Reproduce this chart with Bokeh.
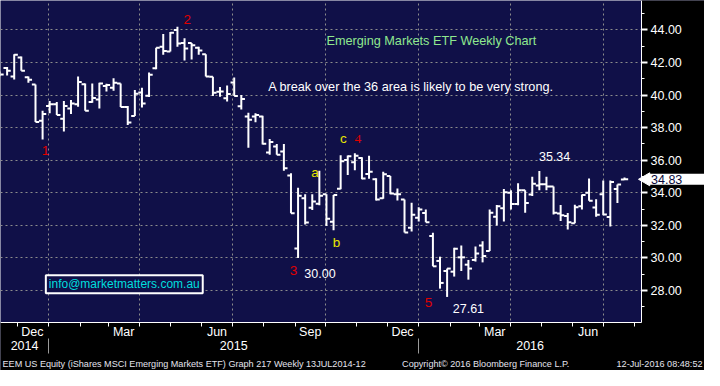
import math
import pandas as pd
from bokeh.plotting import figure
from bokeh.models import (Range1d, FixedTicker, LinearAxis, DatetimeAxis, Grid,
                          DatetimeTickFormatter, PrintfTickFormatter, ColumnDataSource, Label)
from bokeh.embed import file_html
from bokeh.resources import INLINE

# ---------------- data (weekly OHLC, EEM US Equity) ----------------
week_dates = pd.date_range("2014-11-14", periods=89, freq="7D")
opens = [41.35, 41.67, 41.14, 42.31, 41.10, 40.65, 38.43, 39.33, 39.43, 38.55,
         39.18, 39.43, 40.67, 39.57, 39.73, 40.55, 40.45, 40.71, 39.27, 38.71,
         40.16, 39.96, 41.65, 42.96, 42.67, 44.00, 43.20, 43.20, 42.90, 42.51,
         41.12, 40.20, 39.80, 40.78, 39.31, 38.69, 38.69, 38.69, 36.47, 36.84,
         36.53, 35.06, 30.59, 33.67, 33.08, 33.33, 33.92, 32.22, 34.25, 36.02,
         35.88, 36.14, 35.16, 34.84, 33.67, 35.04, 33.92, 33.59, 31.86, 32.47,
         32.76, 31.35, 29.82, 29.20, 29.16, 30.04, 29.59, 29.88, 30.76, 30.43,
         32.53, 33.06, 34.00, 33.31, 34.16, 33.90, 34.45, 34.53, 34.39, 32.73,
         32.57, 32.14, 33.18, 34.00, 33.10, 33.92, 32.51, 34.24, 34.82]
highs = [41.45, 41.73, 42.51, 42.37, 41.14, 40.65, 39.04, 39.63, 39.57, 39.63,
         39.70, 41.14, 40.71, 40.71, 40.75, 40.70, 41.04, 40.71, 39.33, 40.31,
         40.45, 41.39, 42.90, 43.75, 43.88, 44.20, 43.49, 43.20, 42.96, 42.51,
         41.12, 40.49, 40.59, 41.08, 40.00, 38.92, 38.88, 38.73, 37.31, 37.00,
         37.00, 35.20, 34.31, 33.92, 33.92, 35.35, 33.92, 33.86, 36.31, 36.29,
         36.43, 36.18, 36.27, 34.90, 35.29, 35.04, 34.27, 33.59, 33.39, 33.12,
         32.98, 31.55, 30.08, 29.35, 30.63, 30.76, 29.88, 30.70, 31.02, 32.98,
         33.25, 34.24, 34.16, 34.59, 34.16, 34.98, 35.34, 34.98, 34.39, 33.25,
         32.76, 33.27, 33.90, 34.88, 33.61, 34.75, 34.75, 34.51, 34.94]
lows = [41.15, 41.20, 40.96, 41.49, 40.75, 38.35, 37.27, 38.88, 38.78, 37.76,
        38.84, 39.29, 39.04, 39.53, 39.18, 40.22, 40.27, 39.27, 38.16, 38.71,
        39.24, 39.88, 41.59, 42.47, 42.67, 42.96, 42.12, 42.18, 42.47, 41.14,
        39.94, 39.90, 39.61, 39.94, 39.12, 36.76, 38.33, 36.96, 36.33, 36.33,
        35.35, 32.75, 30.00, 32.06, 32.94, 33.24, 31.96, 31.71, 34.22, 35.10,
        35.39, 34.84, 34.86, 33.53, 33.63, 33.92, 33.53, 31.57, 31.63, 32.24,
        32.20, 29.49, 28.12, 27.61, 28.86, 29.20, 28.67, 29.78, 29.73, 30.43,
        32.00, 32.24, 32.98, 33.24, 32.78, 33.80, 34.16, 34.16, 32.67, 32.27,
        31.75, 32.14, 32.98, 33.51, 32.53, 32.63, 31.94, 33.37, 34.78]
closes = [41.27, 41.49, 42.47, 41.49, 40.94, 38.35, 38.84, 39.43, 38.78, 39.33,
          39.49, 40.80, 39.04, 39.82, 40.71, 40.62, 40.76, 39.27, 38.31, 40.08,
          39.49, 41.25, 42.90, 42.71, 43.82, 43.16, 42.86, 43.06, 42.73, 41.14,
          40.14, 40.22, 40.06, 39.94, 39.76, 38.49, 38.78, 37.02, 37.12, 36.33,
          35.51, 32.75, 33.82, 32.18, 33.47, 33.82, 32.41, 33.86, 35.94, 36.25,
          36.27, 34.88, 35.29, 33.59, 35.14, 33.96, 33.92, 31.57, 32.65, 32.98,
          32.20, 29.49, 28.47, 29.35, 30.57, 30.04, 29.35, 30.27, 30.12, 32.78,
          33.18, 34.04, 33.31, 34.16, 33.37, 34.55, 34.53, 34.39, 32.78, 32.63,
          32.20, 33.12, 33.86, 33.51, 32.65, 32.67, 34.67, 34.51, 34.83]

price_ticks = [28, 30, 32, 34, 36, 38, 40, 42, 44]
price_minor = [27, 29, 31, 33, 35, 37, 39, 41, 43, 45]

wave_text = ["1", "2", "3", "4", "5", "a", "b", "c"]
wave_dates = pd.to_datetime(["2014-12-28 19:00", "2015-05-17 19:00", "2015-08-30 14:00",
                             "2015-11-02 00:00", "2016-01-10 14:00", "2015-09-20 16:00",
                             "2015-10-12 00:00", "2015-10-18 14:00"])
wave_price = [36.57, 44.63, 29.22, 37.28, 27.27, 35.22, 30.98, 37.34]

title_text = "Emerging Markets ETF Weekly Chart"
note_text = "A break over the 36 area is likely to be very strong."
email_text = "info@marketmatters.com.au"
footer_left = "EEM US Equity (iShares MSCI Emerging Markets ETF) Graph 217  Weekly 13JUL2014-12"
footer_mid = "Copyright\u00a9 2016 Bloomberg Finance L.P."
footer_right = "12-Jul-2016 08:48:52"

# ---------------- layout / style ----------------
BG = "#101048"
GRID = "#8c8c8c"
RED = "#e00000"
YEL = "#e6e600"
FONT = "Liberation Sans"

CW, CH = 704, 370          # canvas
FW, FH = 641, 322          # chart area (top-left of canvas)
chart_start = pd.Timestamp("2014-11-14 11:30")
chart_end = pd.Timestamp("2016-08-07 18:00")
y_top, y_bot = 45.806, 26.04
day_px = FW / ((chart_end - chart_start) / pd.Timedelta(days=1))
y_pp = (y_top - y_bot) / FH


def x_at(px):
    return chart_start + pd.Timedelta(days=px / day_px)


def y_at(py):
    return y_top - py * y_pp


def ms(ts):
    return float(pd.Timestamp(ts).value // 10**6)


p = figure(width=CW, height=CH, x_axis_type="datetime",
           x_axis_location=None, y_axis_location=None,
           x_range=Range1d(chart_start, x_at(CW)), y_range=Range1d(y_at(CH), y_top),
           output_backend="svg", toolbar_location=None,
           background_fill_color=BG, border_fill_color="black", min_border=0)
p.outline_line_color = None
# drop the automatic grids, own grids are added below
p.center = [r for r in p.center if not isinstance(r, Grid)]

month_starts = [m for m in pd.date_range("2014-11-01", "2016-09-01", freq="MS")
                if chart_start <= m <= chart_end]
quarter_starts = [m for m in month_starts if m.month in (1, 4, 7, 10)]
label_dates = [m + pd.Timedelta(days=15) for m in month_starts if m.month in (3, 6, 9, 12)]
label_dates = [d for d in label_dates if chart_start <= d <= chart_end]
jan_firsts = [m for m in month_starts if m.month == 1]
year_bounds = [chart_start] + jan_firsts + [chart_end]
year_centers = [a + (b - a) / 2 for a, b in zip(year_bounds[:-1], year_bounds[1:])]

# grids
p.add_layout(Grid(dimension=0, ticker=FixedTicker(ticks=[ms(q) for q in quarter_starts]),
                  grid_line_color=GRID, grid_line_dash="2 3"))
p.add_layout(Grid(dimension=1, ticker=FixedTicker(ticks=price_ticks),
                  grid_line_color=GRID, grid_line_dash="2 3"))

# black axis strips (right and bottom)
p.quad(left=[chart_end], right=[x_at(CW + 20)], bottom=[y_at(CH + 20)], top=[y_at(-20)],
       fill_color="black", line_color=None)
p.quad(left=[x_at(-20)], right=[x_at(CW + 20)], bottom=[y_at(CH + 20)], top=[y_bot],
       fill_color="black", line_color=None)

# ---------------- OHLC bars ----------------
tick = pd.Timedelta(days=3.6)
src = ColumnDataSource(dict(x=week_dates, xl=week_dates - tick, xr=week_dates + tick,
                            o=opens, h=highs, l=lows, c=closes))
p.segment(x0="x", y0="l", x1="x", y1="h", source=src, line_color="white", line_width=2)
p.segment(x0="xl", y0="o", x1="x", y1="o", source=src, line_color="white", line_width=2)
p.segment(x0="x", y0="c", x1="xr", y1="c", source=src, line_color="white", line_width=2)

# ---------------- axes ----------------
yax = LinearAxis(fixed_location=ms(chart_end), bounds=(y_bot, y_top),
                 ticker=FixedTicker(ticks=price_ticks, minor_ticks=price_minor),
                 formatter=PrintfTickFormatter(format="%.2f"))
yax.axis_line_color = "white"
yax.major_tick_line_color = "white"
yax.major_tick_line_width = 2
yax.major_tick_in = 0
yax.major_tick_out = 6
yax.minor_tick_line_color = "white"
yax.minor_tick_in = 0
yax.minor_tick_out = 3
yax.major_label_standoff = 3
yax.major_label_text_color = "white"
yax.major_label_text_font = FONT
yax.major_label_text_font_size = "12.5px"
p.add_layout(yax, "right")


def fmt(s):
    return DatetimeTickFormatter(microseconds=s, milliseconds=s, seconds=s, minsec=s,
                                 minutes=s, hourmin=s, hours=s, days=s, months=s, years=s)


def date_axis(loc, ticks, fmt_str, tick_out, tick_color, line_color, standoff=2):
    ax = DatetimeAxis(fixed_location=loc, bounds=(chart_start, chart_end),
                      ticker=FixedTicker(ticks=[ms(t) for t in ticks]), formatter=fmt(fmt_str))
    ax.axis_line_color = line_color
    ax.major_tick_in = 0
    ax.major_tick_out = tick_out
    ax.major_tick_line_color = tick_color
    ax.minor_tick_line_color = None
    ax.major_label_standoff = standoff
    ax.major_label_text_color = "white"
    ax.major_label_text_font = FONT
    ax.major_label_text_font_size = "12.5px"
    p.add_layout(ax, "below")
    return ax


# month tick marks, month names, year separators, year names
date_axis(y_bot, month_starts, "", 4, "white", "white")
date_axis(y_bot, label_dates, "%b", 0, None, None)
date_axis(y_at(338), jan_firsts, "", 15, "#9a9a9a", None)
date_axis(y_at(338), year_centers, "%Y", 0, None, None)

# ---------------- annotations ----------------
wave_colors = [RED] * 5 + [YEL] * 3
wave_fonts = [FONT, FONT, FONT, "Liberation Serif", FONT, FONT, FONT, FONT]
wsrc = ColumnDataSource(dict(x=wave_dates, y=wave_price, t=wave_text, c=wave_colors, f=wave_fonts))
p.text(x="x", y="y", text="t", source=wsrc, text_color="c", text_font="f",
       text_font_size="13.5px", text_align="center", text_baseline="middle")

low_2015 = min(l for d, l in zip(week_dates, lows) if d.year == 2015)
low_all = min(lows)
high_2016 = max(h for d, h in zip(week_dates, highs) if d >= pd.Timestamp("2016-02-01"))
callouts = [(f"{low_2015:.2f}", "2015-09-25 14:00", 29.04),
            (f"{low_all:.2f}", "2016-02-19 00:00", 26.89),
            (f"{high_2016:.2f}", "2016-05-14 00:00", 36.20)]
for txt, d, yv in callouts:
    p.add_layout(Label(x=pd.Timestamp(d), y=yv, text=txt, text_color="white", text_font=FONT,
                       text_font_size="12.5px", text_align="center", text_baseline="middle"))

p.add_layout(Label(x=pd.Timestamp("2016-01-13 12:00"), y=43.35, text=title_text,
                   text_color="#8fe88f", text_font=FONT, text_font_size="12.7px",
                   text_align="center", text_baseline="middle"))
p.add_layout(Label(x=pd.Timestamp("2015-12-24 08:00"), y=40.48, text=note_text,
                   text_color="white", text_font=FONT, text_font_size="12.7px",
                   text_align="center", text_baseline="middle"))
p.add_layout(Label(x=pd.Timestamp("2015-03-16 14:00"), y=28.39, text=email_text,
                   text_color="#00dede", text_font=FONT, text_font_size="12px",
                   text_align="center", text_baseline="middle", background_fill_color=BG,
                   border_line_color="white", border_line_width=2,
                   padding=dict(left=3, right=3, top=2, bottom=2)))

# last price marker
p.scatter(x=[x_at(FW + 4.5)], y=[closes[-1]], marker="triangle", angle=math.pi / 2,
          size=13, fill_color="white", line_color="white")
p.add_layout(Label(x=x_at(FW + 7.5), y=closes[-1], text=f"{closes[-1]:.2f}",
                   text_color="#0a0a3c", text_font=FONT, text_font_size="12.5px",
                   text_align="left", text_baseline="middle", background_fill_color="white",
                   padding=dict(left=2, right=30, top=1, bottom=1)))

# footer
for txt, xx, al in [(footer_left, 2, "left"), (footer_mid, 401.6, "left"),
                    (footer_right, 702, "right")]:
    p.add_layout(Label(x=x_at(xx), y=y_at(363.3), text=txt, text_color="#e4e4ee",
                       text_font=FONT, text_font_size="9.1px",
                       text_align=al, text_baseline="middle"))

open("out.html", "w").write(file_html(p, INLINE))
